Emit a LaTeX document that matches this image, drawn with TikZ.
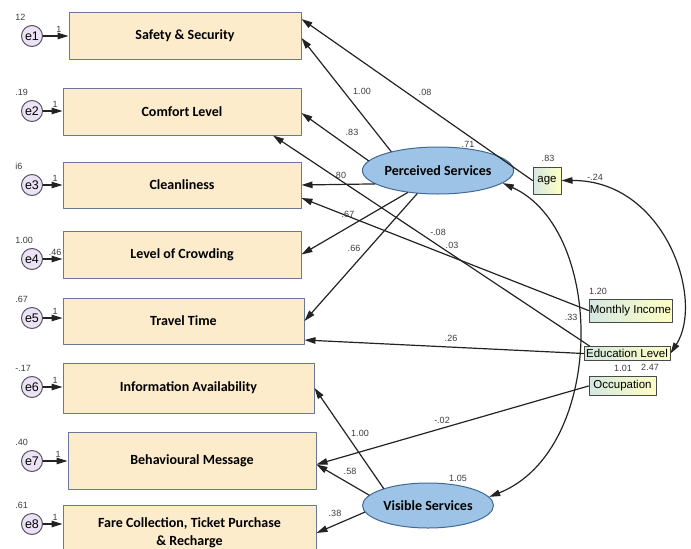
\documentclass[tikz,border=0pt]{standalone}
\usepackage{fontspec}
\setmainfont{Liberation Sans}
\newfontfamily\calfont{Carlito}
\usetikzlibrary{arrows.meta,shapes.geometric}

\definecolor{boxfill}{RGB}{252,236,204}
\definecolor{boxline}{RGB}{105,120,150}
\definecolor{latfill}{RGB}{157,195,230}
\definecolor{latline}{RGB}{65,105,150}
\definecolor{errfill}{RGB}{236,226,245}
\definecolor{errline}{RGB}{85,85,95}
\definecolor{exoleft}{RGB}{212,232,226}
\definecolor{exoright}{RGB}{255,255,196}
\definecolor{exoline}{RGB}{70,75,70}
\definecolor{numgrey}{RGB}{60,60,60}
\definecolor{arrowcol}{RGB}{35,35,35}

\begin{document}
\begin{tikzpicture}[x=1pt,y=-1pt,line join=round,line cap=round,>={Triangle[length=11pt,width=6.5pt]},thick]
	\tikzset{every node/.style={font=\fontsize{9}{10}\selectfont,text=numgrey},
		obs/.style={draw=boxline,fill=boxfill,line width=1pt,inner sep=0pt,align=center,text=black,
			font=\calfont\bfseries\fontsize{14}{17.5}\selectfont},
		lat/.style={ellipse,draw=latline,fill=latfill,line width=1pt,inner sep=0pt,text=black,
			font=\calfont\bfseries\fontsize{14}{16}\selectfont},
		err/.style={circle,draw=errline,fill=errfill,line width=1pt,minimum size=21pt,inner sep=0pt,
			text=black,font=\fontsize{12.5}{13}\selectfont},
		exo/.style={draw=exoline,line width=1pt,left color=exoleft,right color=exoright,inner sep=0pt,
			text=black,font=\fontsize{11.5}{13}\selectfont},
		reg/.style={->,draw=arrowcol,line width=1.2pt},
		covar/.style={<->,draw=arrowcol,line width=1.2pt}}
	\useasboundingbox (0,0) rectangle (691,549);
	% observed variables
	\node[obs,minimum width=232pt,minimum height=47pt] (b1) at (185,35.5) {Safety \& Security};
	\node[obs,minimum width=238pt,minimum height=47pt] (b2) at (182,111.5) {Comfort Level};
	\node[obs,minimum width=238pt,minimum height=46pt] (b3) at (182,185) {Cleanliness};
	\node[obs,minimum width=238pt,minimum height=47pt] (b4) at (182,254.5) {Level of Crowding};
	\node[obs,minimum width=241pt,minimum height=46pt] (b5) at (183.5,321) {Travel Time};
	\node[obs,minimum width=251pt,minimum height=50pt] (b6) at (188.5,388) {Information Availability};
	\node[obs,minimum width=248pt,minimum height=57pt] (b7) at (192,460.5) {Behavioural Message};
	\node[obs,minimum width=253pt,minimum height=56pt] (b8) at (189.5,533) {Fare Collection, Ticket Purchase\\\& Recharge};
	% latent variables
	\node[lat,minimum width=124pt,minimum height=47pt] (ps) at (438,170.5) {Perceived Services};
	\node[lat,minimum width=131pt,minimum height=45pt] (vs) at (428,505.5) {Visible Services};
	% exogenous variables
	\node[exo,minimum width=28pt,minimum height=27pt] (age) at (547,180.5) {age};
	\node[exo,minimum width=83pt,minimum height=23pt] (mi) at (630.5,310.5) {Monthly Income};
	\node[exo,minimum width=86pt,minimum height=14pt] (el) at (627,353.5) {Education Level};
	\node[exo,minimum width=67pt,minimum height=19pt] (oc) at (622.5,386) {Occupation};
	% error terms
	\foreach \i/\y/\v/\w in {1/36/12/1,2/111/.19/1,3/185/i6/1,4/259/1.00/.46,5/318/.67/1,6/387/-.17/1,7/461/.40/1,8/524/.61/1}{
		\node[err] (e\i) at (32,\y) {e\i};
		\node[anchor=west,inner sep=0pt] (v\i) at (15,\y-19) {\v};
		\draw[reg] (e\i) -- (e\i -| b\i.west) node[pos=0.62,above,inner sep=2.5pt] (w\i) {\w};
	}
	% paths
	\draw[reg] (ps.158) -- ([yshift=-2.5pt]b1.east);
	\draw[reg] (age.west) -- ([yshift=16.5pt]b1.east);
	\draw[reg] (ps.172) -- ([yshift=-1.5pt]b2.east);
	\draw[reg] ([xshift=6pt]el.north west) -- ([xshift=91pt]b2.south);
	\draw[reg] (ps.192) -- (b3.east);
	\draw[reg] (mi.west) -- ([yshift=-13pt]b3.east);
	\draw[reg] (ps.216) -- (b4.east);
	\draw[reg] (ps.228) -- (b5.east);
	\draw[reg] (el.west) -- ([yshift=-19pt]b5.east);
	\draw[reg] (vs.159) -- (b6.east);
	\draw[reg] (vs.170) -- ([yshift=-4pt]b7.east);
	\draw[reg] (oc.west) -- ([yshift=-4pt]b7.east);
	\draw[reg] (vs.186) -- (b8.east);
	% covariances
	\draw[covar] (ps.349) .. controls (606,230) and (606,450) .. (vs.8);
	\draw[covar] (age.east) .. controls (665,180) and (705,300) .. (el.east);
	% estimates
	\foreach \n/\x/\y/\t in {l1/362/91/1.00,l2/425/92/.08,l3/352/132/.83,l4/468/144/.71,l5/548/158/.83,
		l6/595/177/-.24,l7/341/175/80,l8/348/214/.67,l9/354/248/.66,l10/438/232/-.08,l11/452/245/.03,
		l12/598/291/1.20,l13/571/317/.33,l14/451/338/.26,l15/623/368/1.01,l16/650/367/2.47,
		l17/442/420/-.02,l18/360/433/1.00,l19/350/471/.58,l20/458/478/1.05,l21/335/513/.38}
		\node[inner sep=0pt] (\n) at (\x,\y) {\t};
\end{tikzpicture}
\end{document}
